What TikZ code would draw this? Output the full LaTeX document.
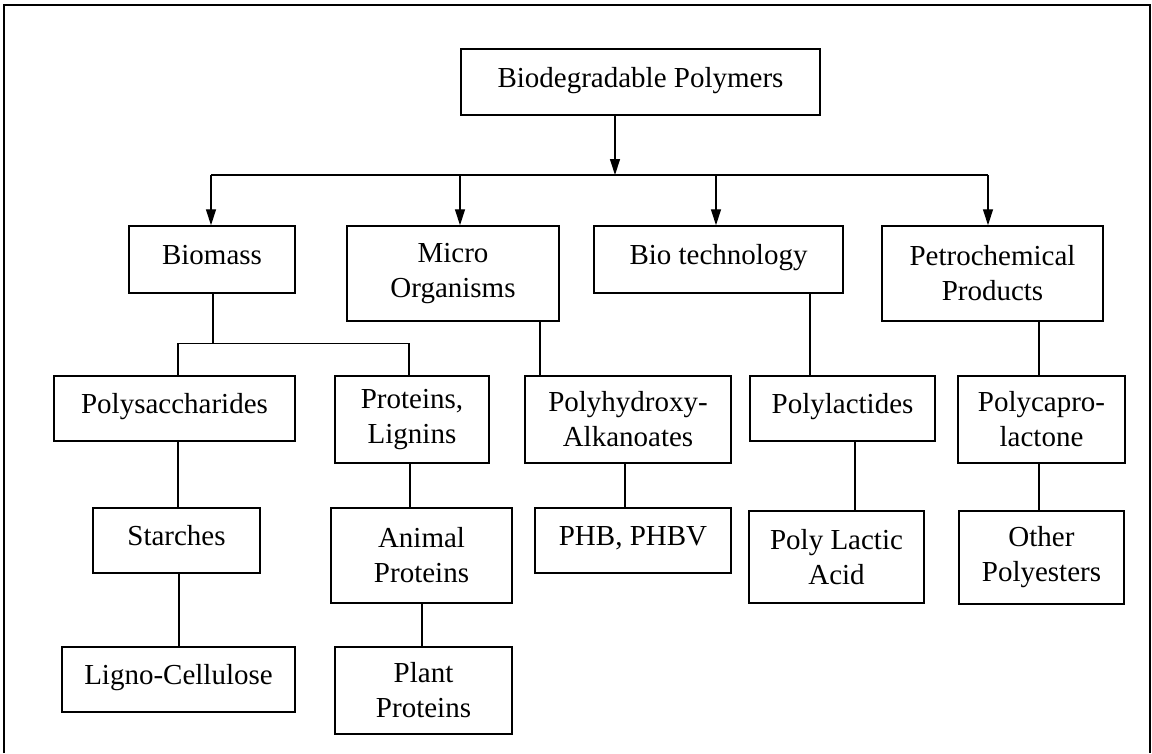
\documentclass[tikz,border=0pt]{standalone}
\usepackage{fontspec}
\setmainfont{Liberation Serif}
\usetikzlibrary{arrows.meta}
\begin{document}
\begin{tikzpicture}[x=1pt,y=-1pt,
  box/.style={draw, line width=1.5pt, inner sep=0pt, align=center,
    font=\fontsize{29}{35}\selectfont},
  oneline/.style={box, text height=20pt, text depth=10pt},
  link/.style={line width=1.3pt},
  arr/.style={line width=1.3pt, -{Triangle[length=16pt,width=10pt]}}]
\useasboundingbox (0,0) rectangle (1152,753);
% frame
\draw[line width=2pt] (4,753) -- (4,5) -- (1150,5) -- (1150,753);

% boxes
\node[oneline, minimum width=359pt, minimum height=66pt] (top) at (640.5,82) {Biodegradable Polymers};

\node[oneline, minimum width=166pt, minimum height=67pt] (biomass) at (212,259.5) {Biomass};
\node[box, minimum width=212pt, minimum height=95pt] (micro) at (453,273.5) {Micro\\Organisms};
\node[oneline, minimum width=249pt, minimum height=67pt] (biotech) at (718.5,259.5) {Bio technology};
\node[box, minimum width=221pt, minimum height=95pt] (petro) at (992.5,273.5) {Petrochemical\\Products};

\node[oneline, minimum width=241pt, minimum height=65pt] (polysac) at (174.5,408.5) {Polysaccharides};
\node[box, minimum width=154pt, minimum height=87pt] (proteins) at (412,419.5) {Proteins,\\Lignins};
\node[box, minimum width=206pt, minimum height=87pt] (pha) at (628,419.5) {Polyhydroxy-\\Alkanoates};
\node[oneline, minimum width=185pt, minimum height=65pt] (polylac) at (842.5,408.5) {Polylactides};
\node[box, minimum width=167pt, minimum height=87pt] (polycap) at (1041.5,419.5) {Polycapro-\\lactone};

\node[oneline, minimum width=167pt, minimum height=65pt] (starches) at (176.5,540.5) {Starches};
\node[box, minimum width=181pt, minimum height=95pt] (animal) at (421.5,555.5) {Animal\\Proteins};
\node[oneline, minimum width=196pt, minimum height=65pt] (phb) at (633,540.5) {PHB, PHBV};
\node[box, minimum width=175pt, minimum height=92pt] (pla) at (836.5,557) {Poly Lactic\\Acid};
\node[box, minimum width=165pt, minimum height=93pt] (other) at (1041.5,557.5) {Other\\Polyesters};

\node[oneline, minimum width=233pt, minimum height=65pt] (ligno) at (178.5,679.5) {Ligno-Cellulose};
\node[box, minimum width=177pt, minimum height=87pt] (plant) at (423.5,690.5) {Plant\\Proteins};

% top level distribution bar
\coordinate (hub) at (615,175);
\draw[arr] ([xshift=-25.5pt]top.south) -- (hub);
\draw[link] (211,175) -- (hub) -- (988,175);
\draw[arr] ([xshift=-1pt]biomass.north |- hub) -- ([xshift=-1pt]biomass.north);
\draw[arr] ([xshift=7pt]micro.north |- hub) -- ([xshift=7pt]micro.north);
\draw[arr] ([xshift=-2.5pt]biotech.north |- hub) -- ([xshift=-2.5pt]biotech.north);
\draw[arr] ([xshift=-4.5pt]petro.north |- hub) -- ([xshift=-4.5pt]petro.north);

% biomass split
\coordinate (split) at (213,344);
\draw[link] ([xshift=1pt]biomass.south) -- (split);
\draw[link] ([xshift=3.5pt]polysac.north) -- ++(0,-32) -| ([xshift=-3pt]proteins.north);

% single links
\draw[link] ([xshift=87pt]micro.south) -- ([xshift=-88pt]pha.north);
\draw[link] ([xshift=91.5pt]biotech.south) -- ([xshift=-32.5pt]polylac.north);
\draw[link] ([xshift=46.5pt]petro.south) -- ([xshift=-2.5pt]polycap.north);
\draw[link] ([xshift=3.5pt]polysac.south) -- ([xshift=1.5pt]starches.north);
\draw[link] ([xshift=2.5pt]starches.south) -- ([xshift=0.5pt]ligno.north);
\draw[link] ([xshift=-2pt]proteins.south) -- ([xshift=-11.5pt]animal.north);
\draw[link] ([xshift=0.5pt]animal.south) -- ([xshift=-1.5pt]plant.north);
\draw[link] ([xshift=-3pt]pha.south) -- ([xshift=-8pt]phb.north);
\draw[link] ([xshift=12.5pt]polylac.south) -- ([xshift=18.5pt]pla.north);
\draw[link] ([xshift=-2.5pt]polycap.south) -- ([xshift=-2.5pt]other.north);
\end{tikzpicture}
\end{document}
